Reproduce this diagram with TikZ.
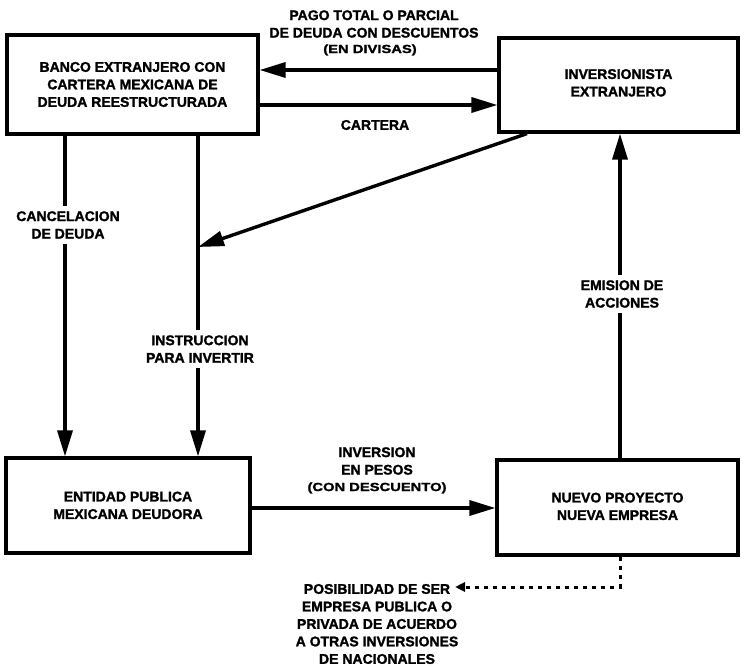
\documentclass[tikz,border=0pt]{standalone}
\usepackage{fontspec}
\setmainfont{Liberation Sans}[BoldFeatures={FakeBold=1.6}]
\newfontfamily\widelabel{Liberation Sans}[FakeStretch=1.25, BoldFeatures={FakeBold=1.6}]
\usetikzlibrary{arrows.meta}

\begin{document}
\begin{tikzpicture}[x=1pt,y=-1pt,
  every node/.style={font=\bfseries\fontsize{14}{17.5}\selectfont, align=center, inner sep=1pt},
  box/.style={draw, line width=3.2pt, rectangle, inner sep=0pt},
  flow/.style={line width=3.4pt, -{Triangle[length=26pt,width=15pt]}},
  dotflow/.style={line width=3pt, dash pattern=on 4pt off 5pt, -{Triangle[length=10pt,width=9pt]}},
  cut/.style={fill=white, inner sep=5pt},
  small/.style={font=\widelabel\bfseries\fontsize{11.8}{14}\selectfont}]

\useasboundingbox (0,0) rectangle (744,668);

% boxes
\node[box, minimum width=251pt, minimum height=99pt] (banco) at (132.5,84.5)
  {BANCO EXTRANJERO CON\\CARTERA MEXICANA DE\\DEUDA REESTRUCTURADA};
\node[box, minimum width=239pt, minimum height=94pt] (inv) at (618.5,85)
  {\\[-12pt]INVERSIONISTA\\EXTRANJERO};
\node[box, minimum width=244pt, minimum height=95pt] (entidad) at (128,505.5)
  {\\[-8pt]ENTIDAD PUBLICA\\MEXICANA DEUDORA};
\node[box, minimum width=241pt, minimum height=95pt] (nuevo) at (617.5,507.5)
  {\\[-10pt]NUEVO PROYECTO\\NUEVA EMPRESA};

% reference rows and columns for the connectors
\coordinate (rowPago) at (0,70);
\coordinate (rowCartera) at (0,105);
\coordinate (rowInversion) at (0,508);
\coordinate (colCancel) at (65,0);
\coordinate (colInstr) at (198,0);
\coordinate (colEmision) at (620,0);
\coordinate (colDiag) at (527,0);
\coordinate (hit) at (198,247);
\coordinate (dotCorner) at (620,587);
\coordinate (dotEnd) at (455,587);

% top exchanges
\draw[flow] (inv.west |- rowPago) -- (banco.east |- rowPago);
\draw[flow] (banco.east |- rowCartera) -- (inv.west |- rowCartera);

% vertical flows
\draw[flow] (banco.south -| colCancel) -- (entidad.north -| colCancel);
\draw[flow] (banco.south -| colInstr) -- (entidad.north -| colInstr);
\draw[flow] (nuevo.north -| colEmision) -- (inv.south -| colEmision);
\draw[flow] (inv.south -| colDiag) -- (hit);

% investment in pesos
\draw[flow] (entidad.east |- rowInversion) -- (nuevo.west |- rowInversion);

% dotted option
\draw[dotflow] (nuevo.south -| colEmision) -- (dotCorner) -- (dotEnd);

% labels
\node (pago) at (374,24) {PAGO TOTAL O PARCIAL\\DE DEUDA CON DESCUENTOS};
\node[small] (divisas) at (370,50) {(EN DIVISAS)};
\node (cartera) at (375,125) {CARTERA};
\node[cut] (cancel) at (68,225) {CANCELACION\\DE DEUDA};
\node[cut] (instr) at (200,349) {INSTRUCCION\\PARA INVERTIR};
\node[cut] (emision) at (622,294) {EMISION DE\\ACCIONES};
\node (inversion) at (377,461) {INVERSION\\EN PESOS};
\node[small] (descuento) at (377,488) {(CON DESCUENTO)};
\node (posib) at (377,624) {POSIBILIDAD DE SER\\EMPRESA PUBLICA O\\PRIVADA DE ACUERDO\\A OTRAS INVERSIONES\\DE NACIONALES};

\end{tikzpicture}
\end{document}
